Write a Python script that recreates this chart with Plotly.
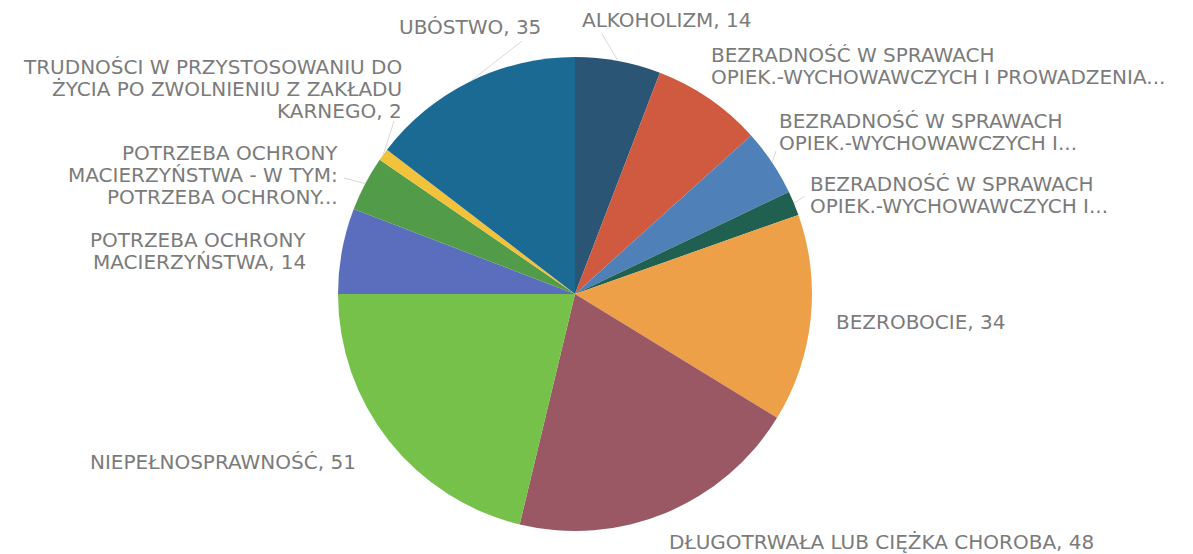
import math
import plotly.graph_objects as go

# figure sits inside the page body, which has an 8px margin
PAGE_OFF = 8
W, H = 1193 - PAGE_OFF, 554 - PAGE_OFF

# ── data ──────────────────────────────────────────────────────────────────────
# "|" marks a line break in the displayed label
categories = [
    "ALKOHOLIZM",
    "BEZRADNOŚĆ W SPRAWACH|OPIEK.-WYCHOWAWCZYCH I PROWADZENIA...",
    "BEZRADNOŚĆ W SPRAWACH|OPIEK.-WYCHOWAWCZYCH I...",
    "BEZRADNOŚĆ W SPRAWACH|OPIEK.-WYCHOWAWCZYCH I...",
    "BEZROBOCIE",
    "DŁUGOTRWAŁA LUB CIĘŻKA CHOROBA",
    "NIEPEŁNOSPRAWNOŚĆ",
    "POTRZEBA OCHRONY|MACIERZYŃSTWA",
    "POTRZEBA OCHRONY|MACIERZYŃSTWA - W TYM:|POTRZEBA OCHRONY...",
    "TRUDNOŚCI W PRZYSTOSOWANIU DO|ŻYCIA PO ZWOLNIENIU Z ZAKŁADU|KARNEGO",
    "UBÓSTWO",
]
values = [14, 18, 11, 4, 34, 48, 51, 14, 9, 2, 35]
# truncated labels in the source do not show their value
show_value = [True, False, False, False, True, True, True, True, False, True, True]

colors = [
    "#2b5574", "#cf5a3f", "#5080b8", "#1f6050", "#eea048", "#9a5865",
    "#76c14a", "#5b6ebd", "#519b49", "#f2c23a", "#1a6a93",
]

# ── layout (screen pixels from top-left) ──────────────────────────────────────
CX, CY, R = 575, 294, 237
LINE_H = 22
FONT = dict(family="DejaVu Sans", size=20, color="#7b7b7b")

# (x, y of first line, anchor)
label_pos = [
    (580, 20, "left"),
    (709, 55, "left"),
    (777, 121, "left"),
    (808, 184, "left"),
    (834, 322, "left"),
    (667, 542, "left"),
    (88, 462, "left"),
    (308, 240, "right"),
    (340, 153, "right"),
    (404, 67, "right"),
    (543, 27, "right"),
]
# end points of the thin leader lines, by slice index
leader_end = {
    0: (602, 34),
    2: (776, 151),
    3: (805, 196),
    8: (344, 178),
    9: (394, 121),
    10: (522, 41),
}


def px_to_paper(x, y):
    return (x - PAGE_OFF) / W, 1 - (y - PAGE_OFF) / H


total = sum(values)
cum = 0
mid_angles = []
for v in values:
    mid_angles.append((cum + v / 2) / total * 2 * math.pi)
    cum += v

dx0, dy1 = px_to_paper(CX - R, CY - R)
dx1, dy0 = px_to_paper(CX + R, CY + R)

fig = go.Figure(
    go.Pie(
        labels=[c.replace("|", " ") + f" ({i})" for i, c in enumerate(categories)],
        values=values,
        sort=False,
        direction="clockwise",
        rotation=0,
        textinfo="none",
        marker=dict(colors=colors, line=dict(width=0)),
        domain=dict(x=[dx0, dx1], y=[dy0, dy1]),
        hovertemplate="%{label}: %{value}<extra></extra>",
    )
)

annotations = []
for i, (name, v) in enumerate(zip(categories, values)):
    text = name + (f", {v}" if show_value[i] else "")
    x, y0, anchor = label_pos[i]
    for k, line in enumerate(text.split("|")):
        xp, yp = px_to_paper(x, y0 + k * LINE_H)
        annotations.append(dict(
            x=xp, y=yp, xref="paper", yref="paper",
            text=line, showarrow=False, height=LINE_H,
            xanchor=anchor, yanchor="middle", font=FONT,
        ))

shapes = []
for i, (ex, ey) in leader_end.items():
    a = mid_angles[i]
    sx, sy = CX + R * math.sin(a), CY - R * math.cos(a)
    x0, y0 = px_to_paper(sx, sy)
    x1, y1 = px_to_paper(ex, ey)
    shapes.append(dict(
        type="line", xref="paper", yref="paper",
        x0=x0, y0=y0, x1=x1, y1=y1,
        line=dict(color="#d9d9d9", width=1),
    ))

fig.update_layout(
    width=W, height=H,
    margin=dict(l=0, r=0, t=0, b=0),
    paper_bgcolor="white",
    plot_bgcolor="white",
    showlegend=False,
    annotations=annotations,
    shapes=shapes,
)

fig.write_html("out.html")
